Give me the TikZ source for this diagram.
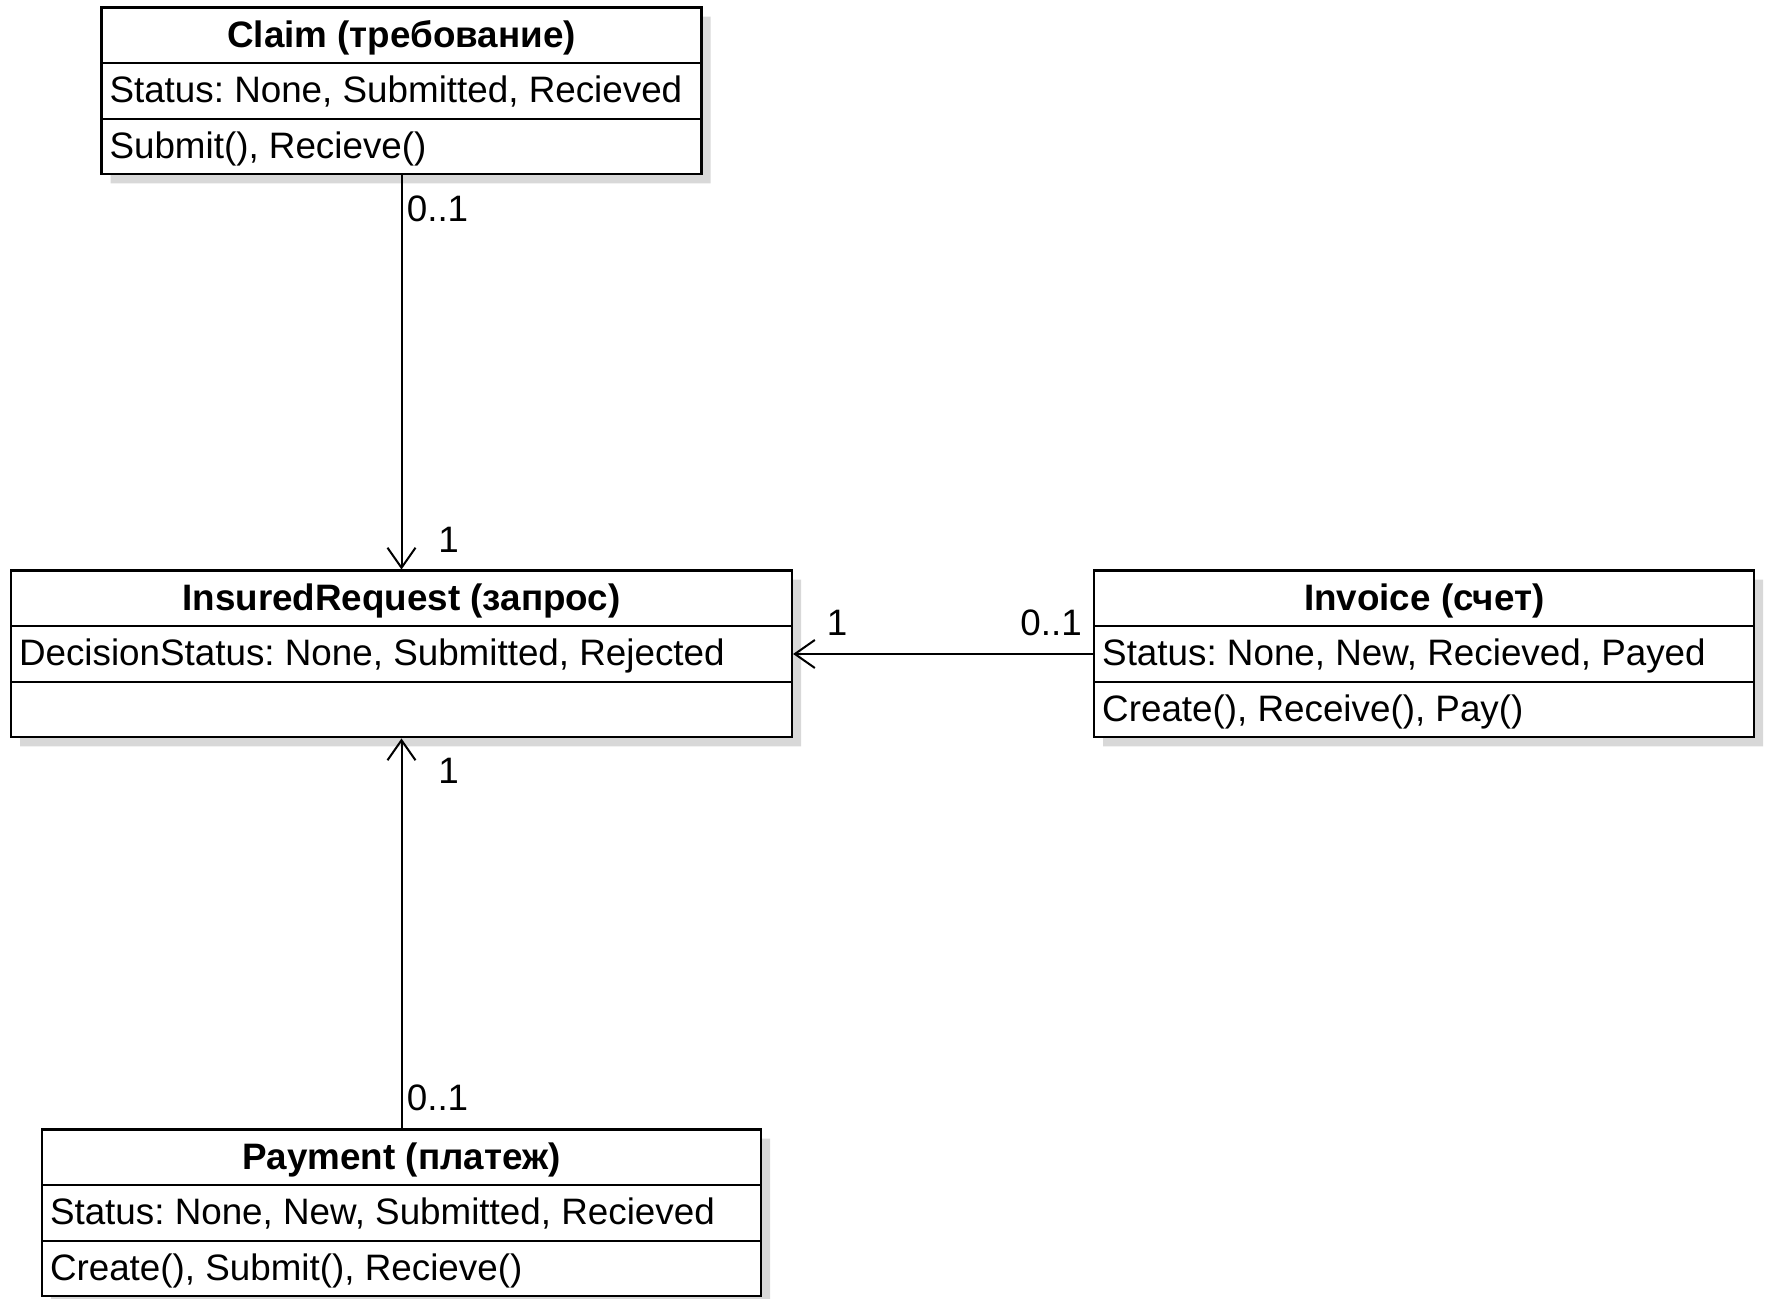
\documentclass[tikz,border=0pt]{standalone}
\usepackage{fontspec}
\setmainfont{Liberation Sans}
\usetikzlibrary{shapes.multipart, arrows.meta, positioning, shadows}

\newcommand{\rowstrut}{\rule[-7.4pt]{0pt}{26.7pt}}

\tikzset{
  umlclass/.style={draw, line width=1.1pt, fill=white, rectangle split, rectangle split parts=3,
    rectangle split part align={center,left,left}, inner xsep=4pt, inner ysep=0pt,
    drop shadow={shadow xshift=4.5pt, shadow yshift=-4.5pt, fill=black!30}},
  assoc/.style={draw, line width=1pt, -{Straight Barb[length=10pt,width=14pt]}},
  mult/.style={inner sep=0pt}
}

\begin{document}
\frenchspacing
\begin{tikzpicture}[x=0.5pt, y=0.5pt, font=\fontsize{18.4pt}{22pt}\selectfont]
    \useasboundingbox (0,0) rectangle (1770,1299);

    \node (request) [umlclass, minimum width=390.5pt] at (401.5,645) {\textbf{InsuredRequest (запрос)}\rowstrut
        \nodepart{two}DecisionStatus: None, Submitted, Rejected\rowstrut
        \nodepart{three}\rowstrut};
    \node (claim) [umlclass, minimum width=300pt, above=197pt of request] {\textbf{Claim (требование)}\rowstrut
        \nodepart{two}Status: None, Submitted, Recieved\rowstrut
        \nodepart{three}Submit(), Recieve()\rowstrut};
    \node (payment) [umlclass, minimum width=359.5pt, below=195pt of request] {\textbf{Payment (платеж)}\rowstrut
        \nodepart{two}Status: None, New, Submitted, Recieved\rowstrut
        \nodepart{three}Create(), Submit(), Recieve()\rowstrut};
    \node (invoice) [umlclass, minimum width=330pt, right=150pt of request] {\textbf{Invoice (счет)}\rowstrut
        \nodepart{two}Status: None, New, Recieved, Payed\rowstrut
        \nodepart{three}Create(), Receive(), Pay()\rowstrut};

    % associations with multiplicities
    \draw [assoc] (claim) -- node[mult, at start, xshift=18pt, yshift=-16.5pt] {0..1}
        node[mult, at end, xshift=23.5pt, yshift=15pt] {1} (request);
    \draw [assoc] (payment) -- node[mult, at start, xshift=18pt, yshift=15.5pt] {0..1}
        node[mult, at end, xshift=23.5pt, yshift=-16pt] {1} (request);
    \draw [assoc] (invoice) -- node[mult, at start, xshift=-21pt, yshift=15.5pt] {0..1}
        node[mult, at end, xshift=22pt, yshift=15.5pt] {1} (request);
\end{tikzpicture}
\end{document}
